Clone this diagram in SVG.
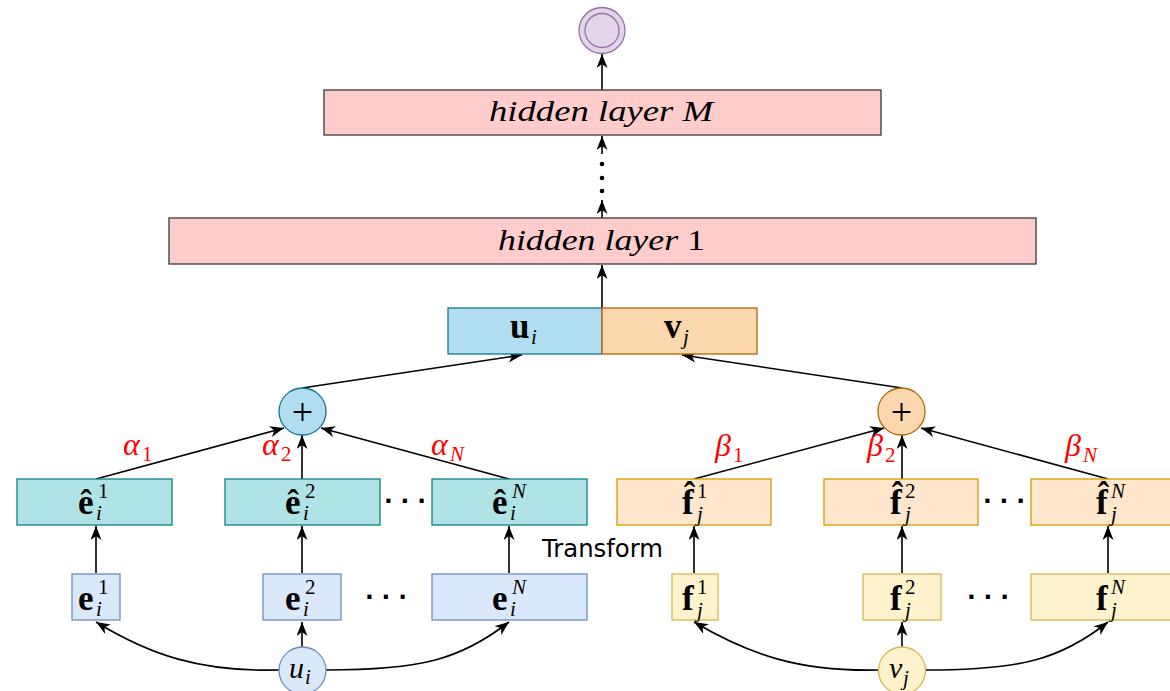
<svg xmlns="http://www.w3.org/2000/svg" width="1170" height="691" viewBox="0 0 1170 691">
<defs>
<marker id="arr" viewBox="0 0 14 11" refX="14" refY="5.5" markerWidth="14" markerHeight="11" markerUnits="userSpaceOnUse" orient="auto">
<path d="M0,0 L14,5.5 L0,11 L4,5.5 Z" fill="#000"/>
</marker>
<style>
.ln{stroke:#000;stroke-width:1.6;fill:none;marker-end:url(#arr)}
.hid{fill:#ffcccc;stroke:#36393d;stroke-width:1.3}
.he{fill:#b0e3e6;stroke:#0e8088;stroke-width:1.3}
.e{fill:#dae8fc;stroke:#6c8ebf;stroke-width:1.3}
.hf{fill:#ffe6cc;stroke:#d79b00;stroke-width:1.3}
.f{fill:#fff2cc;stroke:#d6b656;stroke-width:1.3}
.ub{fill:#b1ddf0;stroke:#10739e;stroke-width:1.3}
.vb{fill:#fad7ac;stroke:#b46504;stroke-width:1.3}
.mi{font-family:"Liberation Serif","DejaVu Serif",serif;font-style:italic;fill:#000}
.mb{font-family:"Liberation Serif","DejaVu Serif",serif;font-weight:bold;fill:#000;font-size:35px}
.mr{font-family:"Liberation Serif","DejaVu Serif",serif;fill:#000}
.big{font-size:30px}
.al{font-size:32px}
.sm{font-size:21px}
.dots{font-family:"DejaVu Sans",sans-serif;font-weight:bold;font-size:23px;fill:#000}
.red{fill:#ff0000}
.dot{fill:#000}
</style>
</defs>

<g id="connectors">
<line class="ln" x1="602" y1="90" x2="602" y2="54"/>
<line class="ln" x1="602" y1="154" x2="602" y2="136"/>
<line class="ln" x1="602" y1="218" x2="602" y2="200"/>
<circle class="dot" cx="602" cy="164" r="2.3"/>
<circle class="dot" cx="602" cy="178" r="2.3"/>
<circle class="dot" cx="602" cy="191" r="2.3"/>
<line class="ln" x1="602" y1="308" x2="602" y2="265"/>
<line class="ln" x1="302" y1="388" x2="522" y2="355"/>
<line class="ln" x1="902" y1="388" x2="682" y2="355"/>
<line class="ln" x1="96" y1="479" x2="284" y2="428"/>
<line class="ln" x1="302" y1="479" x2="302" y2="435"/>
<line class="ln" x1="509" y1="479" x2="321" y2="428"/>
<line class="ln" x1="694" y1="479" x2="884" y2="428"/>
<line class="ln" x1="902" y1="479" x2="902" y2="435"/>
<line class="ln" x1="1108" y1="479" x2="921" y2="428"/>
<line class="ln" x1="96" y1="573" x2="96" y2="526"/>
<line class="ln" x1="302" y1="573" x2="302" y2="526"/>
<line class="ln" x1="509" y1="573" x2="509" y2="526"/>
<line class="ln" x1="694" y1="573" x2="694" y2="526"/>
<line class="ln" x1="902" y1="573" x2="902" y2="526"/>
<line class="ln" x1="1108" y1="573" x2="1108" y2="526"/>
<line class="ln" x1="302" y1="647" x2="302" y2="622"/>
<path class="ln" d="M279 670 C200 672,150 655,96 622"/>
<path class="ln" d="M326 670 C420 670,460 660,509 622"/>
<line class="ln" x1="902" y1="647" x2="902" y2="622"/>
<path class="ln" d="M879 670 C800 672,750 655,694 622"/>
<path class="ln" d="M925 670 C1020 670,1060 660,1108 622"/>
</g>

<g id="output">
<circle cx="602" cy="30.5" r="23" fill="#e1d5e7" stroke="#9673a6" stroke-width="1.3"/>
<circle cx="602" cy="30.5" r="17" fill="#e1d5e7" stroke="#9673a6" stroke-width="1.3"/>
</g>

<g id="hiddenM">
<rect class="hid" x="324" y="90" width="557" height="45"/>
<text class="mi big" x="489" y="121" textLength="224" lengthAdjust="spacingAndGlyphs">hidden layer M</text>
</g>

<g id="hidden1">
<rect class="hid" x="169" y="218" width="867" height="46"/>
<text class="mi big" x="498" y="250" textLength="207" lengthAdjust="spacingAndGlyphs">hidden layer <tspan font-style="normal">1</tspan></text>
</g>

<g id="ui">
<rect class="ub" x="448" y="308" width="154" height="46"/>
<text class="mb" x="510" y="338">u</text>
<text class="mi sm" x="531" y="344">i</text>
</g>
<g id="vj">
<rect class="vb" x="602" y="308" width="155" height="46"/>
<text class="mb" x="664" y="338">v</text>
<text class="mi sm" x="683" y="344">j</text>
</g>

<g id="plusU">
<circle cx="302.5" cy="411.5" r="23.5" fill="#b1ddf0" stroke="#10739e" stroke-width="1.3"/>
<text class="mr" x="302.5" y="425" font-size="38" text-anchor="middle">+</text>
</g>
<g id="plusV">
<circle cx="901.5" cy="411.5" r="23.5" fill="#fad7ac" stroke="#b46504" stroke-width="1.3"/>
<text class="mr" x="901.5" y="425" font-size="38" text-anchor="middle">+</text>
</g>

<g id="weights">
<text class="mi red al" x="123" y="455">α</text><text class="mr red sm" x="142" y="461">1</text>
<text class="mi red al" x="262" y="455">α</text><text class="mr red sm" x="281" y="461">2</text>
<text class="mi red al" x="431" y="455">α</text><text class="mi red sm" x="450" y="461">N</text>
<text class="mi red al" x="715" y="456">β</text><text class="mr red sm" x="733" y="462">1</text>
<text class="mi red al" x="867" y="456">β</text><text class="mr red sm" x="885" y="462">2</text>
<text class="mi red al" x="1065" y="456">β</text><text class="mi red sm" x="1083" y="462">N</text>
</g>

<g id="he1">
<rect class="he" x="17" y="479" width="155" height="46"/>
<text class="mb" x="78" y="514">ê</text><text class="mr sm" x="98" y="498">1</text><text class="mi sm" x="96" y="520">i</text>
</g>
<g id="he2">
<rect class="he" x="225" y="479" width="155" height="46"/>
<text class="mb" x="285" y="514">ê</text><text class="mr sm" x="305" y="498">2</text><text class="mi sm" x="303" y="520">i</text>
</g>
<text class="dots" x="405" y="509" text-anchor="middle">· · ·</text>
<g id="heN">
<rect class="he" x="432" y="479" width="155" height="46"/>
<text class="mb" x="492" y="514">ê</text><text class="mi sm" x="512" y="498">N</text><text class="mi sm" x="510" y="520">i</text>
</g>

<g id="hf1">
<rect class="hf" x="617" y="479" width="154" height="46"/>
<text class="mb" x="682" y="514">f̂</text><text class="mr sm" x="697" y="498">1</text><text class="mi sm" x="697" y="521">j</text>
</g>
<g id="hf2">
<rect class="hf" x="824" y="479" width="154" height="46"/>
<text class="mb" x="890" y="514">f̂</text><text class="mr sm" x="905" y="498">2</text><text class="mi sm" x="905" y="521">j</text>
</g>
<text class="dots" x="1004" y="509" text-anchor="middle">· · ·</text>
<g id="hfN">
<rect class="hf" x="1031" y="479" width="155" height="46"/>
<text class="mb" x="1096" y="514">f̂</text><text class="mi sm" x="1111" y="498">N</text><text class="mi sm" x="1111" y="521">j</text>
</g>

<text id="transform" x="542" y="557" font-family="DejaVu Sans, Verdana, sans-serif" font-size="24" textLength="121" lengthAdjust="spacingAndGlyphs" fill="#000">Transform</text>

<g id="e1">
<rect class="e" x="72" y="574" width="48" height="46"/>
<text class="mb" x="78" y="610">e</text><text class="mr sm" x="98" y="594">1</text><text class="mi sm" x="96" y="616">i</text>
</g>
<g id="e2">
<rect class="e" x="263" y="574" width="78" height="46"/>
<text class="mb" x="285" y="610">e</text><text class="mr sm" x="305" y="594">2</text><text class="mi sm" x="303" y="616">i</text>
</g>
<text class="dots" x="386" y="605" text-anchor="middle">· · ·</text>
<g id="eN">
<rect class="e" x="432" y="574" width="155" height="46"/>
<text class="mb" x="492" y="610">e</text><text class="mi sm" x="512" y="594">N</text><text class="mi sm" x="510" y="616">i</text>
</g>

<g id="f1">
<rect class="f" x="672" y="574" width="46" height="46"/>
<text class="mb" x="682" y="610">f</text><text class="mr sm" x="697" y="594">1</text><text class="mi sm" x="697" y="617">j</text>
</g>
<g id="f2">
<rect class="f" x="863" y="574" width="78" height="46"/>
<text class="mb" x="890" y="610">f</text><text class="mr sm" x="905" y="594">2</text><text class="mi sm" x="905" y="617">j</text>
</g>
<text class="dots" x="988" y="605" text-anchor="middle">· · ·</text>
<g id="fN">
<rect class="f" x="1031" y="574" width="155" height="46"/>
<text class="mb" x="1096" y="610">f</text><text class="mi sm" x="1111" y="594">N</text><text class="mi sm" x="1111" y="617">j</text>
</g>

<g id="user">
<circle cx="302.5" cy="670.5" r="23.5" fill="#dae8fc" stroke="#6c8ebf" stroke-width="1.3"/>
<text class="mi" font-size="30" x="289" y="678">u</text><text class="mi sm" x="305" y="684">i</text>
</g>
<g id="item">
<circle cx="902" cy="670.5" r="23.5" fill="#fff2cc" stroke="#d6b656" stroke-width="1.3"/>
<text class="mi" font-size="30" x="889" y="678">v</text><text class="mi sm" x="903" y="685">j</text>
</g>
</svg>
